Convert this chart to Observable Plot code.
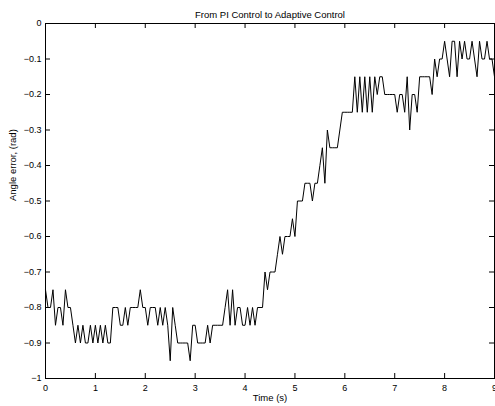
<!DOCTYPE html>
<html>
<head>
<meta charset="utf-8">
<script src="https://cdn.jsdelivr.net/npm/d3@7"></script>
<script src="https://cdn.jsdelivr.net/npm/@observablehq/plot@0.6"></script>
<style>
  html, body { margin: 0; padding: 0; background: white; }
</style>
</head>
<body>
<div id="chart"></div>
<script>
// Sample times (s)
const times = [
  0.00,0.05,0.10,0.15,0.20,0.25,0.30,0.35,0.40,0.45,0.50,0.55,0.60,0.65,0.70,0.75,0.80,0.85,0.90,0.95,
  1.00,1.05,1.10,1.15,1.20,1.25,1.30,1.35,1.40,1.45,1.50,1.55,1.60,1.65,1.70,1.75,1.80,1.85,1.90,1.95,
  2.00,2.05,2.10,2.15,2.20,2.25,2.30,2.35,2.40,2.45,2.50,2.55,2.60,2.65,2.70,2.75,2.80,2.85,2.90,2.95,
  3.00,3.05,3.10,3.15,3.20,3.25,3.30,3.35,3.40,3.45,3.50,3.55,3.60,3.65,3.70,3.75,3.80,3.85,3.90,3.95,
  4.00,4.05,4.10,4.15,4.20,4.25,4.30,4.35,4.40,4.45,4.50,4.55,4.60,4.65,4.70,4.75,4.80,4.85,4.90,4.95,
  5.00,5.05,5.10,5.15,5.20,5.25,5.30,5.35,5.40,5.45,5.50,5.55,5.60,5.65,5.70,5.75,5.80,5.85,5.90,5.95,
  6.00,6.05,6.10,6.15,6.20,6.25,6.30,6.35,6.40,6.45,6.50,6.55,6.60,6.65,6.70,6.75,6.80,6.85,6.90,6.95,
  7.00,7.05,7.10,7.15,7.20,7.25,7.30,7.35,7.40,7.45,7.50,7.55,7.60,7.65,7.70,7.75,7.80,7.85,7.90,7.95,
  8.00,8.05,8.10,8.15,8.20,8.25,8.30,8.35,8.40,8.45,8.50,8.55,8.60,8.65,8.70,8.75,8.80,8.85,8.90,8.95,
  9.00
];
// Angle error (rad)
const angleError = [
  -0.75,-0.80,-0.80,-0.75,-0.85,-0.80,-0.80,-0.85,-0.75,-0.80,-0.80,-0.85,-0.90,-0.85,-0.90,-0.85,-0.90,-0.90,-0.85,-0.90,
  -0.85,-0.90,-0.85,-0.90,-0.85,-0.90,-0.90,-0.80,-0.80,-0.80,-0.85,-0.85,-0.80,-0.85,-0.80,-0.80,-0.80,-0.80,-0.75,-0.80,
  -0.80,-0.85,-0.80,-0.80,-0.80,-0.85,-0.80,-0.85,-0.80,-0.85,-0.95,-0.80,-0.85,-0.90,-0.90,-0.90,-0.90,-0.90,-0.95,-0.85,
  -0.85,-0.90,-0.90,-0.90,-0.90,-0.85,-0.90,-0.85,-0.85,-0.85,-0.85,-0.85,-0.80,-0.75,-0.85,-0.75,-0.85,-0.80,-0.80,-0.85,
  -0.85,-0.80,-0.85,-0.80,-0.85,-0.80,-0.80,-0.80,-0.70,-0.75,-0.70,-0.70,-0.70,-0.65,-0.60,-0.65,-0.60,-0.60,-0.60,-0.55,
  -0.60,-0.50,-0.50,-0.50,-0.45,-0.45,-0.45,-0.50,-0.45,-0.45,-0.40,-0.35,-0.45,-0.30,-0.35,-0.35,-0.35,-0.35,-0.30,-0.25,
  -0.25,-0.25,-0.25,-0.25,-0.15,-0.25,-0.15,-0.25,-0.15,-0.25,-0.15,-0.25,-0.15,-0.20,-0.15,-0.15,-0.20,-0.20,-0.20,-0.20,
  -0.20,-0.25,-0.20,-0.20,-0.25,-0.15,-0.30,-0.20,-0.20,-0.25,-0.15,-0.15,-0.15,-0.15,-0.15,-0.20,-0.10,-0.15,-0.10,-0.10,
  -0.05,-0.10,-0.15,-0.05,-0.05,-0.15,-0.05,-0.10,-0.05,-0.10,-0.10,-0.05,-0.10,-0.15,-0.05,-0.10,-0.10,-0.05,-0.10,-0.10,
  -0.15
];
const xTicks = [0, 1, 2, 3, 4, 5, 6, 7, 8, 9];
const yTicks = [-1, -0.9, -0.8, -0.7, -0.6, -0.5, -0.4, -0.3, -0.2, -0.1, 0];
const yTickLabels = ["−1", "−0.9", "−0.8", "−0.7", "−0.6", "−0.5", "−0.4", "−0.3", "−0.2", "−0.1", "0"];
const title = "From PI Control to Adaptive Control";
const xLabel = "Time (s)";
const yLabel = "Angle error, (rad)";

const data = times.map((t, i) => ({t, v: angleError[i]}));

const W = 495, H = 406;
const mL = 45, mR = 1, mT = 23, mB = 28;
const plotH = H - mT - mB, plotW = W - mL - mR;
const tick = 5;

const chart = Plot.plot({
  width: W, height: H,
  marginLeft: mL, marginRight: mR, marginTop: mT, marginBottom: mB,
  style: {fontFamily: "'Liberation Sans', Arial, Helvetica, sans-serif", fontSize: "9px", background: "white", color: "black", overflow: "visible"},
  x: {domain: [0, 9]},
  y: {domain: [-1, 0]},
  marks: [
    Plot.axisX(xTicks, {anchor: "bottom", tickSize: 0, tickPadding: 6, tickFormat: d => String(d), label: null}),
    Plot.axisY(yTicks, {anchor: "left", tickSize: 0, tickPadding: 4, tickFormat: d => yTickLabels[yTicks.indexOf(d)], label: null}),
    Plot.ruleX(xTicks, {x: d => d, insetTop: plotH - tick, stroke: "black"}),
    Plot.ruleX(xTicks, {x: d => d, insetBottom: plotH - tick, stroke: "black"}),
    Plot.ruleY(yTicks, {y: d => d, insetRight: plotW - tick, stroke: "black"}),
    Plot.ruleY(yTicks, {y: d => d, insetLeft: plotW - tick, stroke: "black"}),
    Plot.frame({stroke: "black"}),
    Plot.line(data, {x: "t", y: "v", stroke: "black", strokeWidth: 1}),
    Plot.text([title], {frameAnchor: "top", dy: -12, fontSize: 9.5, text: d => d}),
    Plot.text([xLabel], {frameAnchor: "bottom", dy: 22, fontSize: 9.5, text: d => d}),
    Plot.text([yLabel], {frameAnchor: "left", dx: -33, rotate: -90, fontSize: 9.5, text: d => d})
  ]
});
document.getElementById("chart").appendChild(chart);
</script>
</body>
</html>
